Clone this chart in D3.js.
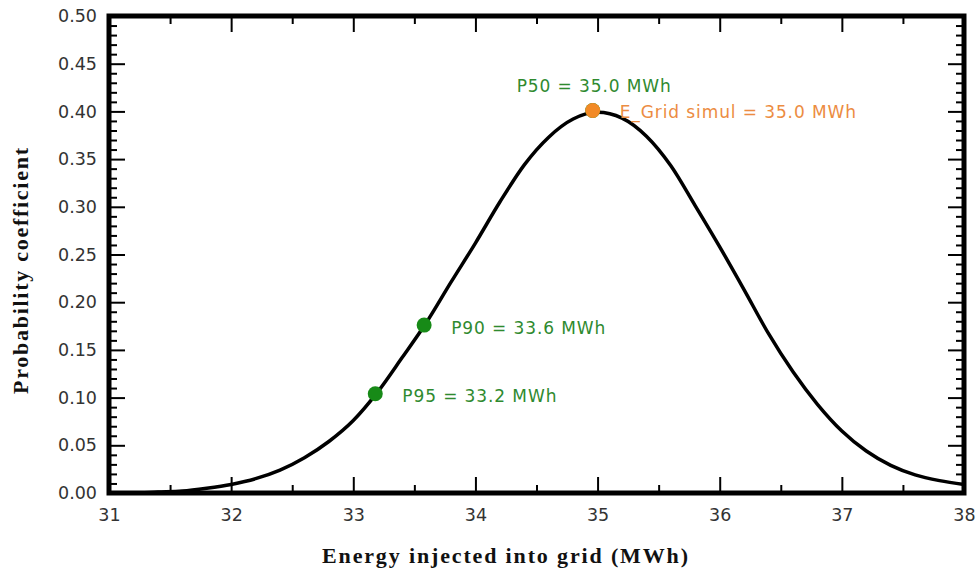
<!DOCTYPE html>
<html>
<head>
<meta charset="utf-8">
<script src="https://cdn.jsdelivr.net/npm/d3@7"></script>
<style>
  body { margin: 0; background: #fff; }
  .tick text { font-family: "DejaVu Sans", sans-serif; font-size: 17.5px; fill: #333; }
  .tick line { stroke: #000; stroke-width: 2; }
  .title { font-family: "Liberation Serif", "Times New Roman", serif; font-weight: bold; font-size: 22px; fill: #111; }
  .note { font-family: "DejaVu Sans", sans-serif; font-size: 17px; letter-spacing: 0.9px; }
</style>
</head>
<body>
<div id="chart"></div>
<script>
// data
var energy = [31.0, 31.2, 31.4, 31.6, 31.8, 32.0, 32.2, 32.4, 32.6, 32.8,
              33.0, 33.2, 33.4, 33.6, 33.8, 34.0, 34.2, 34.4, 34.6, 34.8,
              35.0, 35.2, 35.4, 35.6, 35.8, 36.0, 36.2, 36.4, 36.6, 36.8,
              37.0, 37.2, 37.4, 37.6, 37.8, 38.0];
var probability = [0.000, 0.000, 0.001, 0.002, 0.005, 0.009, 0.015, 0.024, 0.037, 0.054,
                   0.076, 0.106, 0.142, 0.179, 0.221, 0.262, 0.305, 0.344, 0.373, 0.392,
                   0.399, 0.393, 0.374, 0.343, 0.301, 0.258, 0.213, 0.167, 0.127, 0.093,
                   0.065, 0.044, 0.029, 0.019, 0.013, 0.009];

var pointNames = ["P95", "P90", "P50", "E_Grid"];
var pointX = [33.18, 33.58, 34.96, 34.96];
var pointY = [0.104, 0.176, 0.401, 0.401];
var pointLabels = ["P95 = 33.2 MWh", "P90 = 33.6 MWh", "P50 = 35.0 MWh", "E_Grid simul = 35.0 MWh"];

var xTicks = [31, 32, 33, 34, 35, 36, 37, 38];
var yTicks = [0, 0.05, 0.10, 0.15, 0.20, 0.25, 0.30, 0.35, 0.40, 0.45, 0.50];

var x_label = "Energy injected into grid (MWh)";
var y_label = "Probability coefficient";

// styles for the markers
var dotColor = ["#178a17", "#178a17", "#178a17", "#f28a26"];
var textColor = ["#2f8a2f", "#2f8a2f", "#2f8a2f", "#ec8c42"];
var labelOffset = [[27, 8], [27, 9], [-76, -18], [27, 8]];

var W = 977, H = 582;
var plot = {left: 109, right: 964, top: 16, bottom: 493};

var svg = d3.select("#chart").append("svg")
  .attr("width", W).attr("height", H);

var x = d3.scaleLinear().domain([31, 38]).range([plot.left, plot.right]);
var y = d3.scaleLinear().domain([0, 0.5]).range([plot.bottom, plot.top]);

var xMinor = d3.range(31.5, 38, 1);
var yMinor = d3.range(0, 51).map(d => d / 100).filter(d => Math.round(d * 100) % 5 != 0);

// minor ticks first
svg.append("g").attr("transform", `translate(${plot.left},0)`)
  .call(d3.axisLeft(y).tickValues(yMinor).tickSize(-8).tickFormat(""));
svg.append("g").attr("transform", `translate(${plot.right},0)`)
  .call(d3.axisRight(y).tickValues(yMinor).tickSize(-8).tickFormat(""));
svg.append("g").attr("transform", `translate(0,${plot.bottom})`)
  .call(d3.axisBottom(x).tickValues(xMinor).tickSize(-8).tickFormat(""));
svg.append("g").attr("transform", `translate(0,${plot.top})`)
  .call(d3.axisTop(x).tickValues(xMinor).tickSize(-8).tickFormat(""));

// major ticks with labels
svg.append("g").attr("transform", `translate(${plot.left},0)`)
  .call(d3.axisLeft(y).tickValues(yTicks).tickSizeInner(-16).tickSizeOuter(0)
    .tickPadding(12).tickFormat(d3.format(".2f")));
svg.append("g").attr("transform", `translate(${plot.right},0)`)
  .call(d3.axisRight(y).tickValues(yTicks).tickSizeInner(-16).tickSizeOuter(0).tickFormat(""));
svg.append("g").attr("transform", `translate(0,${plot.bottom})`)
  .call(d3.axisBottom(x).tickValues(xTicks).tickSizeInner(-16).tickSizeOuter(0)
    .tickPadding(16).tickFormat(d3.format("d")));
svg.append("g").attr("transform", `translate(0,${plot.top})`)
  .call(d3.axisTop(x).tickValues(xTicks).tickSizeInner(-16).tickSizeOuter(0).tickFormat(""));

svg.selectAll(".domain").remove();

// the curve
var line = d3.line()
  .x((d, i) => x(energy[i]))
  .y(d => y(d))
  .curve(d3.curveMonotoneX);

svg.append("path")
  .datum(probability)
  .attr("d", line)
  .attr("fill", "none")
  .attr("stroke", "#000")
  .attr("stroke-width", 3.5)
  .attr("stroke-linejoin", "round");

// frame
svg.append("rect")
  .attr("x", plot.left).attr("y", plot.top)
  .attr("width", plot.right - plot.left).attr("height", plot.bottom - plot.top)
  .attr("fill", "none").attr("stroke", "#000").attr("stroke-width", 5);

// markers
svg.selectAll(".dot")
  .data(pointNames)
  .enter()
  .append("circle")
    .attr("class", "dot")
    .attr("cx", (d, i) => x(pointX[i]))
    .attr("cy", (d, i) => y(pointY[i]))
    .attr("r", 7.5)
    .attr("fill", (d, i) => dotColor[i]);

svg.selectAll(".note")
  .data(pointLabels)
  .enter()
  .append("text")
    .attr("class", "note")
    .attr("x", (d, i) => x(pointX[i]) + labelOffset[i][0])
    .attr("y", (d, i) => y(pointY[i]) + labelOffset[i][1])
    .attr("fill", (d, i) => textColor[i])
    .text(d => d);

// axis titles
svg.append("text")
  .attr("class", "title")
  .attr("x", 322).attr("y", 563)
  .attr("textLength", 366)
  .attr("lengthAdjust", "spacing")
  .text(x_label);

svg.append("text")
  .attr("class", "title")
  .attr("transform", "translate(28,271) rotate(-90)")
  .attr("text-anchor", "middle")
  .attr("textLength", 246)
  .attr("lengthAdjust", "spacing")
  .text(y_label);
</script>
</body>
</html>
